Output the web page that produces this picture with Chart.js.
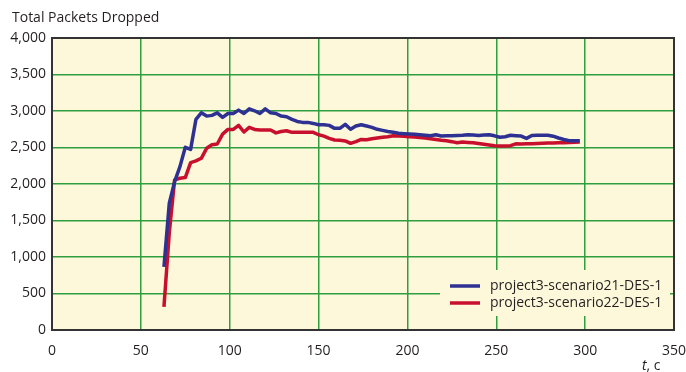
<!DOCTYPE html>
<html>
<head>
<meta charset="utf-8">
<script src="https://cdn.jsdelivr.net/npm/chart.js@4.4.0/dist/chart.umd.min.js"></script>
<style>
  html, body { margin: 0; padding: 0; background: #fff; }
  #wrap { width: 686px; height: 372px; }
</style>
</head>
<body>
<div id="wrap"><canvas id="chart" width="686" height="372"></canvas></div>
<script>
// simulation time, s
const times = [63, 66, 69, 72, 75, 78, 81, 84, 87, 90,
  93, 96, 99, 102, 105, 108, 111, 114, 117, 120,
  123, 126, 129, 132, 135, 138, 141, 144, 147, 150,
  153, 156, 159, 162, 165, 168, 171, 174, 177, 180,
  183, 186, 189, 192, 195, 198, 201, 204, 207, 210,
  213, 216, 219, 222, 225, 228, 231, 234, 237, 240,
  243, 246, 249, 252, 255, 258, 261, 264, 267, 270,
  273, 276, 279, 282, 285, 288, 291, 294, 297];

const scenario21 = [864, 1738, 2033, 2238, 2503, 2475, 2885, 2975, 2930, 2940,
  2975, 2912, 2966, 2966, 3012, 2966, 3030, 3003, 2966, 3030,
  2975, 2966, 2930, 2921, 2885, 2857, 2844, 2844, 2830, 2812,
  2812, 2803, 2762, 2762, 2817, 2749, 2794, 2812, 2794, 2776,
  2749, 2735, 2720, 2708, 2695, 2690, 2685, 2680, 2675, 2668,
  2662, 2675, 2657, 2660, 2662, 2665, 2667, 2675, 2670, 2665,
  2670, 2675, 2660, 2640, 2648, 2667, 2662, 2657, 2625, 2665,
  2667, 2667, 2667, 2655, 2630, 2610, 2593, 2593, 2593];

const scenario22 = [317, 1330, 2056, 2079, 2088, 2293, 2316, 2352, 2489, 2538,
  2548, 2684, 2748, 2748, 2803, 2712, 2776, 2748, 2739, 2739,
  2739, 2700, 2720, 2730, 2708, 2708, 2708, 2708, 2708, 2675,
  2655, 2625, 2603, 2598, 2590, 2557, 2580, 2610, 2605, 2620,
  2630, 2640, 2648, 2660, 2658, 2655, 2648, 2644, 2638, 2630,
  2620, 2610, 2600, 2592, 2580, 2565, 2575, 2570, 2566, 2555,
  2545, 2535, 2525, 2520, 2520, 2525, 2550, 2548, 2550, 2552,
  2555, 2558, 2561, 2563, 2565, 2566, 2568, 2572, 2575];

const seriesNames = ['project3-scenario21-DES-1', 'project3-scenario22-DES-1'];
const yTitle = 'Total Packets Dropped';
const xUnit = ', c';

const FONT = '"Open Sans", sans-serif';
const TEXT = '#231f20';
const PLOT_BG = '#fdf8da';
const GRID = '#2f9e3e';
const BLUE = '#2e3192';
const RED = '#c8102e';

function toPoints(values) {
  return values.map((v, i) => ({ x: times[i], y: v }));
}

// background, frame, axis titles and the boxed legend inside the plot
const decorations = {
  id: 'decorations',
  beforeDraw(chart) {
    const { ctx, chartArea: a } = chart;
    ctx.save();
    ctx.fillStyle = PLOT_BG;
    ctx.fillRect(a.left, a.top, a.right - a.left, a.bottom - a.top);
    ctx.restore();
  },
  afterDatasetsDraw(chart) {
    const { ctx, chartArea: a } = chart;
    ctx.save();
    // legend box
    const bx = 440, by = 270, bw = a.right - 4 - bx, bh = 46;
    ctx.fillStyle = PLOT_BG;
    ctx.fillRect(bx, by, bw, bh);
    const colors = [BLUE, RED];
    const rows = [286, 303];
    ctx.font = '14px ' + FONT;
    ctx.textBaseline = 'middle';
    seriesNames.forEach((name, i) => {
      ctx.strokeStyle = colors[i];
      ctx.lineWidth = 3.5;
      ctx.beginPath();
      ctx.moveTo(450, rows[i]);
      ctx.lineTo(480, rows[i]);
      ctx.stroke();
      ctx.fillStyle = TEXT;
      ctx.fillText(name, 490, rows[i]);
    });
    ctx.restore();
  },
  afterDraw(chart) {
    const { ctx, chartArea: a } = chart;
    ctx.save();
    ctx.strokeStyle = '#333';
    ctx.lineWidth = 2;
    ctx.strokeRect(a.left, a.top, a.right - a.left, a.bottom - a.top);

    ctx.fillStyle = TEXT;
    ctx.textBaseline = 'middle';
    ctx.font = '14px ' + FONT;
    ctx.fillText(yTitle, 12, 18);

    ctx.font = 'italic 14px ' + FONT;
    const tw = ctx.measureText('t').width;
    ctx.fillText('t', 642, 366);
    ctx.font = '14px ' + FONT;
    ctx.fillText(xUnit, 642 + tw, 366);
    ctx.restore();
  }
};

new Chart(document.getElementById('chart'), {
  type: 'line',
  data: {
    datasets: [
      { label: seriesNames[0], data: toPoints(scenario21), borderColor: BLUE, borderWidth: 3.5 },
      { label: seriesNames[1], data: toPoints(scenario22), borderColor: RED, borderWidth: 3.5 }
    ]
  },
  options: {
    responsive: false,
    animation: false,
    devicePixelRatio: 1,
    layout: { padding: { top: 38, right: 0, left: 0, bottom: 0 } },
    elements: {
      point: { radius: 0 },
      line: { tension: 0, borderJoinStyle: 'round', borderCapStyle: 'butt' }
    },
    plugins: {
      legend: { display: false },
      tooltip: { enabled: false }
    },
    scales: {
      x: {
        type: 'linear',
        min: 0,
        max: 350,
        afterFit: (scale) => {
          scale.height = 42;
          scale.paddingLeft = 0;
          scale.paddingRight = 12;
        },
        ticks: { stepSize: 50, color: TEXT, font: { family: FONT, size: 14 }, padding: 13, maxRotation: 0 },
        grid: { color: GRID, lineWidth: 1.5, drawTicks: false },
        border: { display: false }
      },
      y: {
        min: 0,
        max: 4000,
        afterFit: (scale) => {
          scale.width = 52;
          scale.paddingTop = 0;
          scale.paddingBottom = 0;
        },
        ticks: {
          stepSize: 500,
          color: TEXT,
          font: { family: FONT, size: 14 },
          padding: 6,
          callback: (v) => v.toLocaleString('en-US')
        },
        grid: { color: GRID, lineWidth: 1.5, drawTicks: false },
        border: { display: false }
      }
    }
  },
  plugins: [decorations]
});
</script>
</body>
</html>
